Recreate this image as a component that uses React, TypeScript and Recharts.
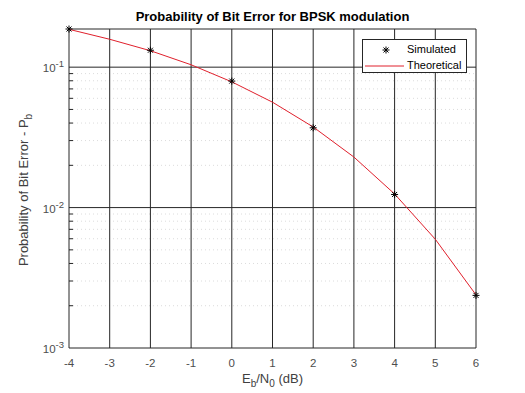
import { ComposedChart, Line, XAxis, YAxis, ReferenceLine } from "recharts";

// Eb/N0 grid (dB) and BPSK bit error rates
const ebn0Ticks = [-4, -3, -2, -1, 0, 1, 2, 3, 4, 5, 6];
const theoryEbN0 = [-4, -3, -2, -1, 0, 1, 2, 3, 4, 5, 6];
const theoryPb = [0.186, 0.158, 0.131, 0.104, 0.0786, 0.0563, 0.0375, 0.0229, 0.0125, 0.00595, 0.00239];
const simEbN0 = [-4, -2, 0, 2, 4, 6];
const simPb = [0.187, 0.132, 0.0796, 0.037, 0.0124, 0.00237];
const yDecades = [0.001, 0.01, 0.1];
const yDecadeExp = ["-3", "-2", "-1"];
const yMinor = [0.002, 0.003, 0.004, 0.005, 0.006, 0.007, 0.008, 0.009, 0.02, 0.03, 0.04, 0.05, 0.06, 0.07, 0.08, 0.09];
const yMax = 0.187;

const theoryData = theoryEbN0.map((x, i) => ({ ebn0: x, pb: theoryPb[i] }));
const simData = simEbN0.map((x, i) => ({ ebn0: x, pb: simPb[i] }));

const FONT = "'Liberation Sans', Arial, sans-serif";
const INK = "#262626";

function Star({ cx, cy }: any) {
  if (cx == null || cy == null) return null;
  const r = 3.5;
  const d = 2.5;
  return (
    <g stroke="#000" strokeWidth={1}>
      <line x1={cx - r} y1={cy} x2={cx + r} y2={cy} />
      <line x1={cx} y1={cy - r} x2={cx} y2={cy + r} />
      <line x1={cx - d} y1={cy - d} x2={cx + d} y2={cy + d} />
      <line x1={cx - d} y1={cy + d} x2={cx + d} y2={cy - d} />
    </g>
  );
}

function XTick({ x, y, payload }: any) {
  return (
    <text x={x} y={y + 19} textAnchor="middle" fontSize={11.5} fill="#4d4d4d" fontFamily={FONT}>
      {payload.value}
    </text>
  );
}

function LeftTick({ x, y, payload }: any) {
  const i = yDecades.indexOf(payload.value);
  if (i < 0) {
    return <line x1={x} y1={y} x2={x + 4} y2={y} stroke={INK} />;
  }
  return (
    <text x={x - 5} y={y + 5} textAnchor="end" fontSize={11.5} fill="#4d4d4d" fontFamily={FONT}>
      10<tspan dy={-5} fontSize={9.5}>{yDecadeExp[i]}</tspan>
    </text>
  );
}

function RightTick({ x, y }: any) {
  return <line x1={x} y1={y} x2={x - 4} y2={y} stroke={INK} />;
}

export default function App() {
  return (
    <div style={{ position: "absolute", left: 0, top: 0, width: 525, height: 393, background: "#fff", fontFamily: FONT }}>
      <ComposedChart width={525} height={393} margin={{ top: 29, right: 39, bottom: 15, left: 9 }}>
        <XAxis
          dataKey="ebn0"
          type="number"
          domain={[-4, 6]}
          ticks={ebn0Ticks}
          interval={0}
          height={30}
          tickSize={0}
          tickMargin={0}
          axisLine={false}
          tickLine={false}
          tick={(p: any) => <XTick {...p} />}
        />
        <YAxis
          yAxisId="left"
          type="number"
          scale="log"
          domain={[0.001, yMax]}
          ticks={[...yMinor, ...yDecades]}
          interval={0}
          width={60}
          tickSize={0}
          tickMargin={0}
          axisLine={false}
          tickLine={false}
          tick={(p: any) => <LeftTick {...p} />}
        />
        <YAxis
          yAxisId="right"
          orientation="right"
          type="number"
          scale="log"
          domain={[0.001, yMax]}
          ticks={yMinor}
          interval={0}
          width={10}
          tickSize={0}
          tickMargin={0}
          axisLine={false}
          tickLine={false}
          tick={(p: any) => <RightTick {...p} />}
        />
        {yMinor.map((v) => (
          <ReferenceLine key={"m" + v} yAxisId="left" y={v} stroke="#dcdcdc" strokeDasharray="1 3" />
        ))}
        {yDecades.map((v) => (
          <ReferenceLine key={"d" + v} yAxisId="left" y={v} stroke={INK} />
        ))}
        {ebn0Ticks.map((v) => (
          <ReferenceLine key={"x" + v} yAxisId="left" x={v} stroke={INK} />
        ))}
        <ReferenceLine yAxisId="left" y={yMax} stroke={INK} />
        <Line
          yAxisId="left"
          data={simData}
          dataKey="pb"
          stroke="none"
          dot={(p: any) => <Star key={"s" + p.index} {...p} />}
          activeDot={false}
          isAnimationActive={false}
        />
        <Line
          yAxisId="left"
          data={theoryData}
          dataKey="pb"
          stroke="#e0202c"
          strokeWidth={1}
          dot={false}
          activeDot={false}
          isAnimationActive={false}
        />
      </ComposedChart>

      <div style={{ position: "absolute", left: 0, width: 545, top: 9, textAlign: "center", fontSize: 13, fontWeight: "bold", color: "#000" }}>
        Probability of Bit Error for BPSK modulation
      </div>

      <div style={{ position: "absolute", left: 0, width: 545, top: 371, textAlign: "center", fontSize: 13, color: "#404040" }}>
        E<sub style={{ fontSize: 10 }}>b</sub>/N<sub style={{ fontSize: 10 }}>0</sub> (dB)
      </div>

      <div
        style={{
          position: "absolute",
          left: 25,
          top: 190,
          transform: "translate(-50%, -50%) rotate(-90deg)",
          whiteSpace: "nowrap",
          fontSize: 13,
          color: "#404040",
        }}
      >
        Probability of Bit Error - P<sub style={{ fontSize: 10 }}>b</sub>
      </div>

      <div
        style={{
          position: "absolute",
          left: 362,
          top: 39,
          width: 103,
          height: 32,
          border: `1px solid ${INK}`,
          background: "#fff",
          fontSize: 11,
          color: "#000",
        }}
      >
        <svg width={44} height={32} style={{ position: "absolute", left: 0, top: 0 }}>
          <Star cx={23} cy={10} />
          <line x1={2} y1={26} x2={41} y2={26} stroke="#e0202c" />
        </svg>
        <div style={{ position: "absolute", left: 44, top: 3 }}>Simulated</div>
        <div style={{ position: "absolute", left: 44, top: 19 }}>Theoretical</div>
      </div>
    </div>
  );
}
